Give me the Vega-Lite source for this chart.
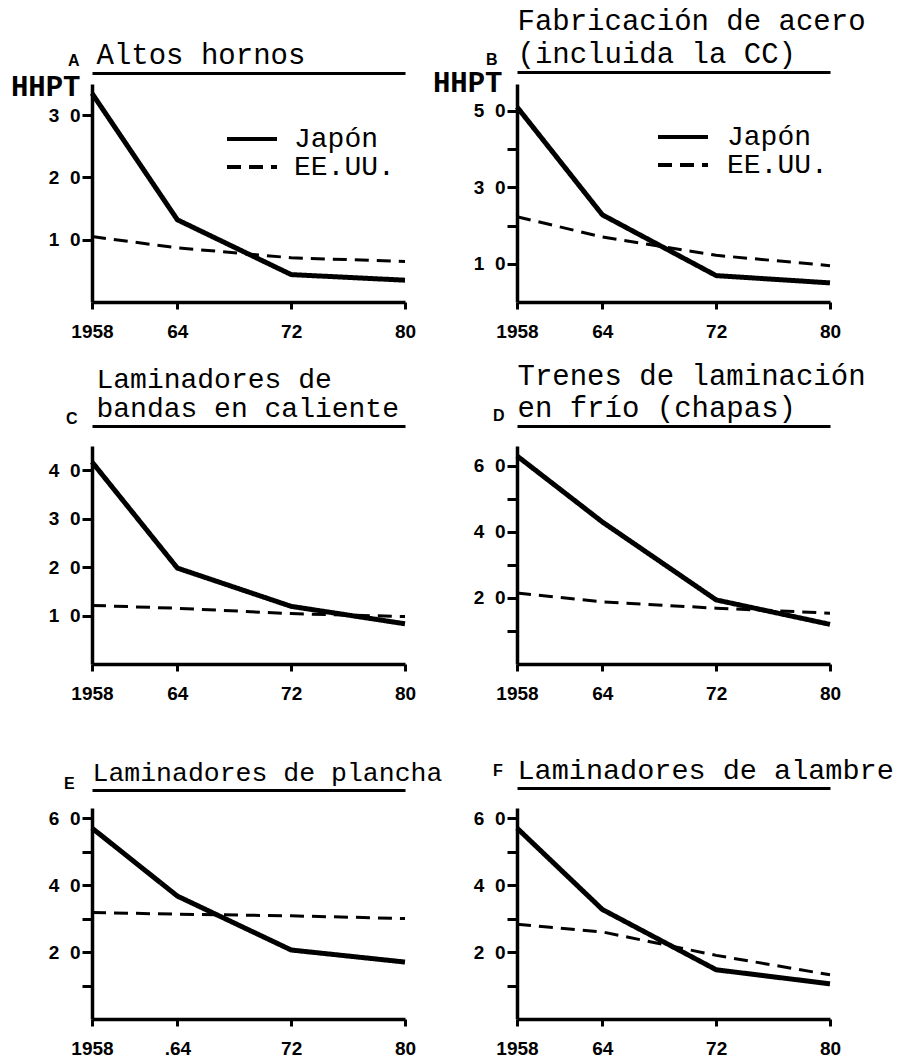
{
  "$schema": "https://vega.github.io/schema/vega-lite/v6.json",
  "background": "white",
  "padding": {"left": 10, "top": 6, "right": 5, "bottom": 5},
  "data": {"values": [
    {"panel": "A", "country": "Japón", "year": 1958, "hhpt": 33.5},
    {"panel": "A", "country": "Japón", "year": 1964, "hhpt": 13.2},
    {"panel": "A", "country": "Japón", "year": 1972, "hhpt": 4.4},
    {"panel": "A", "country": "Japón", "year": 1980, "hhpt": 3.5},
    {"panel": "A", "country": "EE.UU.", "year": 1958, "hhpt": 10.5},
    {"panel": "A", "country": "EE.UU.", "year": 1964, "hhpt": 8.7},
    {"panel": "A", "country": "EE.UU.", "year": 1972, "hhpt": 7.1},
    {"panel": "A", "country": "EE.UU.", "year": 1980, "hhpt": 6.5},
    {"panel": "B", "country": "Japón", "year": 1958, "hhpt": 51},
    {"panel": "B", "country": "Japón", "year": 1964, "hhpt": 22.8},
    {"panel": "B", "country": "Japón", "year": 1972, "hhpt": 6.9},
    {"panel": "B", "country": "Japón", "year": 1980, "hhpt": 5.0},
    {"panel": "B", "country": "EE.UU.", "year": 1958, "hhpt": 22.3},
    {"panel": "B", "country": "EE.UU.", "year": 1964, "hhpt": 17.0},
    {"panel": "B", "country": "EE.UU.", "year": 1972, "hhpt": 12.2},
    {"panel": "B", "country": "EE.UU.", "year": 1980, "hhpt": 9.5},
    {"panel": "C", "country": "Japón", "year": 1958, "hhpt": 41.7},
    {"panel": "C", "country": "Japón", "year": 1964, "hhpt": 19.8},
    {"panel": "C", "country": "Japón", "year": 1972, "hhpt": 11.9},
    {"panel": "C", "country": "Japón", "year": 1980, "hhpt": 8.3},
    {"panel": "C", "country": "EE.UU.", "year": 1958, "hhpt": 12.1},
    {"panel": "C", "country": "EE.UU.", "year": 1964, "hhpt": 11.5},
    {"panel": "C", "country": "EE.UU.", "year": 1972, "hhpt": 10.4},
    {"panel": "C", "country": "EE.UU.", "year": 1980, "hhpt": 9.8},
    {"panel": "D", "country": "Japón", "year": 1958, "hhpt": 63},
    {"panel": "D", "country": "Japón", "year": 1964, "hhpt": 43},
    {"panel": "D", "country": "Japón", "year": 1972, "hhpt": 19.4},
    {"panel": "D", "country": "Japón", "year": 1980, "hhpt": 12},
    {"panel": "D", "country": "EE.UU.", "year": 1958, "hhpt": 21.5},
    {"panel": "D", "country": "EE.UU.", "year": 1964, "hhpt": 18.8},
    {"panel": "D", "country": "EE.UU.", "year": 1972, "hhpt": 16.9},
    {"panel": "D", "country": "EE.UU.", "year": 1980, "hhpt": 15.4},
    {"panel": "E", "country": "Japón", "year": 1958, "hhpt": 57},
    {"panel": "E", "country": "Japón", "year": 1964, "hhpt": 36.7},
    {"panel": "E", "country": "Japón", "year": 1972, "hhpt": 20.6},
    {"panel": "E", "country": "Japón", "year": 1980, "hhpt": 17},
    {"panel": "E", "country": "EE.UU.", "year": 1958, "hhpt": 31.8},
    {"panel": "E", "country": "EE.UU.", "year": 1964, "hhpt": 31.3},
    {"panel": "E", "country": "EE.UU.", "year": 1972, "hhpt": 30.8},
    {"panel": "E", "country": "EE.UU.", "year": 1980, "hhpt": 30},
    {"panel": "F", "country": "Japón", "year": 1958, "hhpt": 57},
    {"panel": "F", "country": "Japón", "year": 1964, "hhpt": 32.7},
    {"panel": "F", "country": "Japón", "year": 1972, "hhpt": 14.7},
    {"panel": "F", "country": "Japón", "year": 1980, "hhpt": 10.5},
    {"panel": "F", "country": "EE.UU.", "year": 1958, "hhpt": 28.3},
    {"panel": "F", "country": "EE.UU.", "year": 1964, "hhpt": 26},
    {"panel": "F", "country": "EE.UU.", "year": 1972, "hhpt": 19},
    {"panel": "F", "country": "EE.UU.", "year": 1980, "hhpt": 13.2}
  ]},
  "columns": 2,
  "bounds": "flush",
  "spacing": {"row": 144, "column": 112},
  "resolve": {"scale": {"strokeDash": "independent"}, "legend": {"strokeDash": "independent"}},
  "concat": [
    {
      "width": 313, "height": 218,
      "title": {"text": "A", "anchor": "start", "frame": "group", "dx": -24, "dy": 29, "offset": 0, "font": "Liberation Sans", "fontSize": 16, "fontWeight": "bold", "color": "black"},
      "transform": [{"filter": "datum.panel == 'A'"}],
      "layer": [
        {"mark": {"type": "line"},
         "encoding": {
           "x": {"field": "year", "type": "quantitative", "scale": {"domain": [1958, 1980], "nice": false, "zero": false}, "axis": {"values": [1958, 1964, 1972, 1980], "labelExpr": "datum.value == 1958 ? '1958' : '' + (datum.value - 1900)", "title": null}},
           "y": {"field": "hhpt", "type": "quantitative", "scale": {"domain": [0, 35], "nice": false}, "axis": {"values": [10, 20, 30], "labelExpr": "floor(datum.value / 10) + '\u00a0\u00a0' + (datum.value % 10)", "title": "HHPT", "titleX": -12, "titleY": 11}},
           "strokeDash": {"field": "country", "type": "nominal", "scale": {"domain": ["Japón", "EE.UU."], "range": [[1, 0], [14, 8]]}, "legend": {"title": null, "orient": "none", "legendX": 146, "legendY": 41, "labelOffset": 28}},
           "strokeWidth": {"condition": {"test": "datum.country == 'Japón'", "value": 5}, "value": 3}
         }},
        {"mark": {"type": "line", "opacity": 0},
         "encoding": {
           "x": {"field": "year", "type": "quantitative", "scale": {"domain": [1958, 1980], "nice": false, "zero": false}, "axis": {"orient": "top", "title": "Altos hornos", "offset": 11, "titleX": 4, "titleFontSize": 29}},
           "y": {"field": "hhpt", "type": "quantitative", "axis": null}
         }}
      ],
      "resolve": {"axis": {"x": "independent", "y": "independent"}}
    },
    {
      "width": 313, "height": 218,
      "title": {"text": "B", "anchor": "start", "frame": "group", "dx": -31, "dy": 62, "offset": 0, "font": "Liberation Sans", "fontSize": 16, "fontWeight": "bold", "color": "black"},
      "transform": [{"filter": "datum.panel == 'B'"}],
      "layer": [
        {"mark": {"type": "line"},
         "encoding": {
           "x": {"field": "year", "type": "quantitative", "scale": {"domain": [1958, 1980], "nice": false, "zero": false}, "axis": {"values": [1958, 1964, 1972, 1980], "labelExpr": "datum.value == 1958 ? '1958' : '' + (datum.value - 1900)", "title": null}},
           "y": {"field": "hhpt", "type": "quantitative", "scale": {"domain": [0, 57], "nice": false}, "axis": {"values": [10, 20, 30, 40, 50], "labelExpr": "datum.value % 20 == 10 ? floor(datum.value / 10) + '\u00a0\u00a0' + (datum.value % 10) : ''", "title": "HHPT", "titleX": -15, "titleY": 7}},
           "strokeDash": {"field": "country", "type": "nominal", "scale": {"domain": ["Japón", "EE.UU."], "range": [[1, 0], [14, 8]]}, "legend": {"title": null, "orient": "none", "legendX": 152, "legendY": 39, "labelOffset": 30}},
           "strokeWidth": {"condition": {"test": "datum.country == 'Japón'", "value": 5}, "value": 3}
         }},
        {"mark": {"type": "line", "opacity": 0},
         "encoding": {
           "x": {"field": "year", "type": "quantitative", "scale": {"domain": [1958, 1980], "nice": false, "zero": false}, "axis": {"orient": "top", "title": ["Fabricación de acero", "(incluida la CC)"], "offset": 12, "titleFontSize": 29, "titleLineHeight": 33}},
           "y": {"field": "hhpt", "type": "quantitative", "axis": null}
         }}
      ],
      "resolve": {"axis": {"x": "independent", "y": "independent"}}
    },
    {
      "width": 313, "height": 218,
      "title": {"text": "C", "anchor": "start", "frame": "group", "dx": -26, "dy": 62, "offset": 0, "font": "Liberation Sans", "fontSize": 16, "fontWeight": "bold", "color": "black"},
      "transform": [{"filter": "datum.panel == 'C'"}],
      "layer": [
        {"mark": {"type": "line"},
         "encoding": {
           "x": {"field": "year", "type": "quantitative", "scale": {"domain": [1958, 1980], "nice": false, "zero": false}, "axis": {"values": [1958, 1964, 1972, 1980], "labelExpr": "datum.value == 1958 ? '1958' : '' + (datum.value - 1900)", "title": null}},
           "y": {"field": "hhpt", "type": "quantitative", "scale": {"domain": [0, 45], "nice": false}, "axis": {"values": [10, 20, 30, 40], "labelExpr": "floor(datum.value / 10) + '\u00a0\u00a0' + (datum.value % 10)", "title": null}},
           "strokeDash": {"field": "country", "type": "nominal", "scale": {"domain": ["Japón", "EE.UU."], "range": [[1, 0], [14, 8]]}, "legend": null},
           "strokeWidth": {"condition": {"test": "datum.country == 'Japón'", "value": 5}, "value": 3}
         }},
        {"mark": {"type": "line", "opacity": 0},
         "encoding": {
           "x": {"field": "year", "type": "quantitative", "scale": {"domain": [1958, 1980], "nice": false, "zero": false}, "axis": {"orient": "top", "title": ["Laminadores de", "bandas en caliente"], "offset": 20, "titleX": 4, "titleFontSize": 28, "titleLineHeight": 29}},
           "y": {"field": "hhpt", "type": "quantitative", "axis": null}
         }}
      ],
      "resolve": {"axis": {"x": "independent", "y": "independent"}}
    },
    {
      "width": 313, "height": 218,
      "title": {"text": "D", "anchor": "start", "frame": "group", "dx": -24, "dy": 63, "offset": 0, "font": "Liberation Sans", "fontSize": 16, "fontWeight": "bold", "color": "black"},
      "transform": [{"filter": "datum.panel == 'D'"}],
      "layer": [
        {"mark": {"type": "line"},
         "encoding": {
           "x": {"field": "year", "type": "quantitative", "scale": {"domain": [1958, 1980], "nice": false, "zero": false}, "axis": {"values": [1958, 1964, 1972, 1980], "labelExpr": "datum.value == 1958 ? '1958' : '' + (datum.value - 1900)", "title": null}},
           "y": {"field": "hhpt", "type": "quantitative", "scale": {"domain": [0, 66], "nice": false}, "axis": {"values": [10, 20, 30, 40, 50, 60], "labelExpr": "datum.value % 20 == 0 ? floor(datum.value / 10) + '\u00a0\u00a0' + (datum.value % 10) : ''", "title": null}},
           "strokeDash": {"field": "country", "type": "nominal", "scale": {"domain": ["Japón", "EE.UU."], "range": [[1, 0], [14, 8]]}, "legend": null},
           "strokeWidth": {"condition": {"test": "datum.country == 'Japón'", "value": 5}, "value": 3}
         }},
        {"mark": {"type": "line", "opacity": 0},
         "encoding": {
           "x": {"field": "year", "type": "quantitative", "scale": {"domain": [1958, 1980], "nice": false, "zero": false}, "axis": {"orient": "top", "title": ["Trenes de laminación", "en frío (chapas)"], "offset": 20, "titleFontSize": 29, "titleLineHeight": 32}},
           "y": {"field": "hhpt", "type": "quantitative", "axis": null}
         }}
      ],
      "resolve": {"axis": {"x": "independent", "y": "independent"}}
    },
    {
      "width": 313, "height": 211,
      "title": {"text": "E", "anchor": "start", "frame": "group", "dx": -28, "dy": 33, "offset": 0, "font": "Liberation Sans", "fontSize": 16, "fontWeight": "bold", "color": "black"},
      "transform": [{"filter": "datum.panel == 'E'"}],
      "layer": [
        {"mark": {"type": "line"},
         "encoding": {
           "x": {"field": "year", "type": "quantitative", "scale": {"domain": [1958, 1980], "nice": false, "zero": false}, "axis": {"values": [1958, 1964, 1972, 1980], "labelExpr": "datum.value == 1958 ? '1958' : datum.value == 1964 ? '.64' : '' + (datum.value - 1900)", "title": null}},
           "y": {"field": "hhpt", "type": "quantitative", "scale": {"domain": [0, 63], "nice": false}, "axis": {"values": [10, 20, 30, 40, 50, 60], "labelExpr": "datum.value % 20 == 0 ? floor(datum.value / 10) + '\u00a0\u00a0' + (datum.value % 10) : ''", "title": null}},
           "strokeDash": {"field": "country", "type": "nominal", "scale": {"domain": ["Japón", "EE.UU."], "range": [[1, 0], [14, 8]]}, "legend": null},
           "strokeWidth": {"condition": {"test": "datum.country == 'Japón'", "value": 5}, "value": 3}
         }},
        {"mark": {"type": "line", "opacity": 0},
         "encoding": {
           "x": {"field": "year", "type": "quantitative", "scale": {"domain": [1958, 1980], "nice": false, "zero": false}, "axis": {"orient": "top", "title": "Laminadores de plancha", "offset": 18, "titleFontSize": 26.5}},
           "y": {"field": "hhpt", "type": "quantitative", "axis": null}
         }}
      ],
      "resolve": {"axis": {"x": "independent", "y": "independent"}}
    },
    {
      "width": 313, "height": 211,
      "title": {"text": "F", "anchor": "start", "frame": "group", "dx": -24, "dy": 24, "offset": 0, "font": "Liberation Sans", "fontSize": 16, "fontWeight": "bold", "color": "black"},
      "transform": [{"filter": "datum.panel == 'F'"}],
      "layer": [
        {"mark": {"type": "line"},
         "encoding": {
           "x": {"field": "year", "type": "quantitative", "scale": {"domain": [1958, 1980], "nice": false, "zero": false}, "axis": {"values": [1958, 1964, 1972, 1980], "labelExpr": "datum.value == 1958 ? '1958' : '' + (datum.value - 1900)", "title": null}},
           "y": {"field": "hhpt", "type": "quantitative", "scale": {"domain": [0, 63], "nice": false}, "axis": {"values": [10, 20, 30, 40, 50, 60], "labelExpr": "datum.value % 20 == 0 ? floor(datum.value / 10) + '\u00a0\u00a0' + (datum.value % 10) : ''", "title": null}},
           "strokeDash": {"field": "country", "type": "nominal", "scale": {"domain": ["Japón", "EE.UU."], "range": [[1, 0], [14, 8]]}, "legend": null},
           "strokeWidth": {"condition": {"test": "datum.country == 'Japón'", "value": 5}, "value": 3}
         }},
        {"mark": {"type": "line", "opacity": 0},
         "encoding": {
           "x": {"field": "year", "type": "quantitative", "scale": {"domain": [1958, 1980], "nice": false, "zero": false}, "axis": {"orient": "top", "title": "Laminadores de alambre", "offset": 20, "titleFontSize": 28.5}},
           "y": {"field": "hhpt", "type": "quantitative", "axis": null}
         }}
      ],
      "resolve": {"axis": {"x": "independent", "y": "independent"}}
    }
  ],
  "config": {
    "view": {"stroke": null},
    "line": {"color": "black", "strokeJoin": "round"},
    "axis": {"grid": false, "domainColor": "black", "tickColor": "black", "labelColor": "black", "titleColor": "black"},
    "axisBottom": {"domainWidth": 3.5, "tickWidth": 3, "tickSize": 7, "labelFont": "Liberation Sans", "labelFontWeight": "bold", "labelFontSize": 19, "labelPadding": 13, "labelFlush": false, "labelOverlap": false},
    "axisLeft": {"domainWidth": 3.5, "tickWidth": 3, "tickSize": 10, "labelFont": "Liberation Sans", "labelFontWeight": "bold", "labelFontSize": 19, "labelPadding": 2, "labelOverlap": false, "titleFont": "Liberation Mono", "titleFontSize": 29, "titleFontWeight": "bold", "titleAngle": 0, "titleAlign": "right", "titleBaseline": "alphabetic"},
    "axisTop": {"domainWidth": 3, "ticks": false, "labels": false, "titleFont": "Liberation Mono", "titleFontWeight": "normal", "titleAnchor": "start", "titleAlign": "left", "titlePadding": 4, "titleLimit": 1000},
    "legend": {"symbolType": "M-2.5,0H2.5", "symbolSize": 400, "symbolStrokeWidth": 4, "symbolStrokeColor": "black", "labelFont": "Liberation Mono", "labelFontSize": 28, "labelColor": "black", "labelOffset": 16, "rowPadding": 0, "padding": 0}
  }
}
